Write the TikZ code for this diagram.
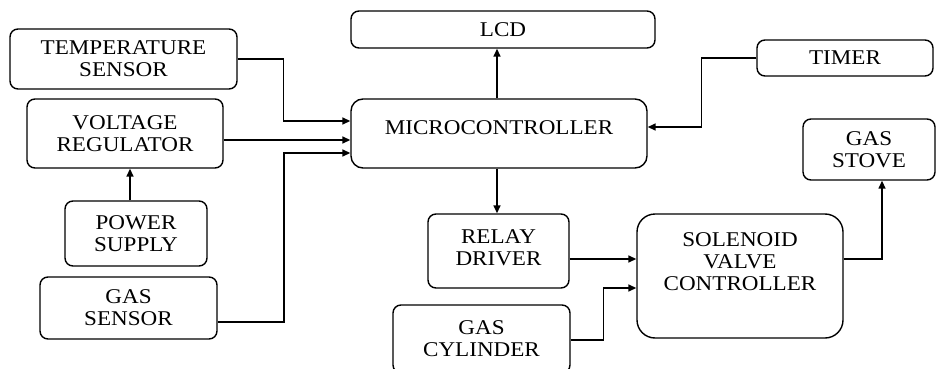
\documentclass[tikz,border=0pt]{standalone}
\usepackage{fontspec}
\setmainfont{Liberation Serif}[FakeStretch=1.1]
\usetikzlibrary{arrows.meta}

\begin{document}
\begin{tikzpicture}[x=1pt, y=-1pt, line width=1.5pt, >={Triangle[length=8pt,width=7pt]},
  font=\fontsize{21}{22}\selectfont,
  blk/.style={draw, rounded corners=8pt, align=center, inner sep=0pt, line width=1.4pt}]
  \useasboundingbox (0,0) rectangle (936,369);
  % left column
  \node[blk, minimum width=227pt, minimum height=60pt] (temp) at (123.5,59) {TEMPERATURE\\SENSOR};
  \node[blk, minimum width=196pt, minimum height=69pt] (volt) at (125,133.5) {VOLTAGE\\REGULATOR};
  \node[blk, minimum width=142pt, minimum height=65pt] (power) at (136,233.5) {POWER\\SUPPLY};
  \node[blk, minimum width=177pt, minimum height=62pt] (gassens) at (128.5,308) {GAS\\SENSOR};
  % middle
  \node[blk, minimum width=304pt, minimum height=37pt] (lcd) at (503,29.5) {LCD};
  \node[blk, rounded corners=12pt, minimum width=296pt, minimum height=69pt, text depth=12pt] (mc) at (499,133.5) {MICROCONTROLLER};
  \node[blk, minimum width=141pt, minimum height=74pt, text depth=6pt] (relay) at (498.5,251) {RELAY\\DRIVER};
  \node[blk, minimum width=177pt, minimum height=68pt] (cyl) at (481.5,339) {GAS\\CYLINDER};
  % right
  \node[blk, minimum width=176pt, minimum height=36pt] (timer) at (845,58) {TIMER};
  \node[blk, minimum width=132pt, minimum height=61pt] (stove) at (869,149.5) {GAS\\STOVE};
  \node[blk, rounded corners=18pt, minimum width=206pt, minimum height=124pt, text depth=28pt] (svc) at (740,276) {SOLENOID\\VALVE\\CONTROLLER};

  \draw[->] (temp.east) -- ++(46,0) |- ([yshift=12.5pt]mc.west);
  \draw[->] ([yshift=-6.5pt]volt.east) -- ([yshift=-6.5pt]volt.east -| mc.west);
  \draw[->] ([yshift=-14pt]gassens.east) -- ++(66.5,0) |- ([yshift=-19.5pt]mc.west);
  \draw[->] ([xshift=-6pt]power.north) -- ([xshift=-6pt]power.north |- volt.south);
  \draw[->] ([xshift=-2pt]mc.north) -- ([xshift=-2pt]mc.north |- lcd.south);
  \draw[->] (timer.west) -- ++(-55,0) |- ([yshift=6.5pt]mc.east);
  \draw[->] ([xshift=-2pt]mc.south) -- ([xshift=-2pt]mc.south |- relay.north);
  \draw[->] ([yshift=-8pt]relay.east) -- ([yshift=-8pt]relay.east -| svc.west);
  \draw[->] ([yshift=-1pt]cyl.east) -- ++(33,0) |- ([yshift=-12pt]svc.west);
  \draw[->] ([yshift=17pt]svc.east) -| ([xshift=13pt]stove.south);
\end{tikzpicture}
\end{document}
